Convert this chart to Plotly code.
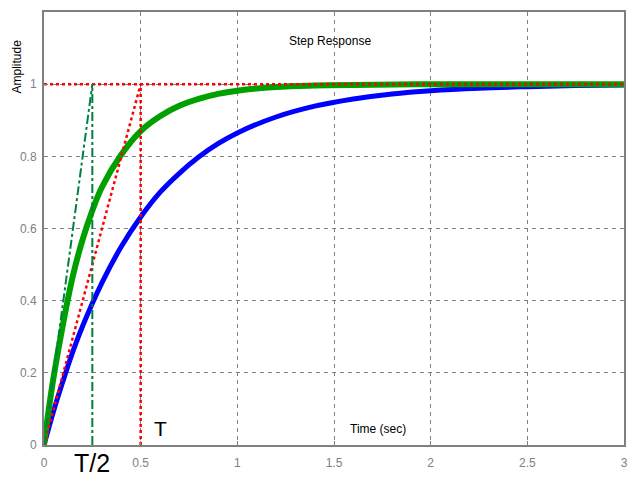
import plotly.graph_objects as go

# Blue response (slow, T = 0.5)
t_blue = [0, 0.05, 0.1, 0.15, 0.2, 0.3, 0.4, 0.5, 0.6, 0.7, 0.8, 0.9, 1.0, 1.2, 1.4, 1.6, 1.8, 2.0, 2.25, 2.5, 2.75, 3.0]
y_blue = [0, 0.095, 0.18, 0.26, 0.33, 0.45, 0.55, 0.632, 0.70, 0.753, 0.798, 0.835, 0.865, 0.909, 0.939, 0.959, 0.973, 0.982, 0.989, 0.993, 0.996, 0.9975]

# Green response (fast, T/2 = 0.25)
t_green = [0, 0.025, 0.05, 0.1, 0.15, 0.2, 0.25, 0.3, 0.4, 0.5, 0.6, 0.7, 0.8, 0.9, 1.0, 1.2, 1.4, 1.6, 2.0, 2.5, 3.0]
y_green = [0, 0.1, 0.19, 0.34, 0.47, 0.57, 0.65, 0.715, 0.805, 0.87, 0.911, 0.94, 0.959, 0.973, 0.982, 0.992, 0.996, 0.998, 1.0, 1.0, 1.0]

# Construction lines
red_h_x = [0, 3]
red_h_y = [1, 1]
red_v_x = [0.5, 0.5]
red_v_y = [0, 1]
red_tan_x = [0, 0.5]
red_tan_y = [0, 1]
grn_v_x = [0.25, 0.25]
grn_v_y = [0, 1]
grn_tan_x = [0, 0.25]
grn_tan_y = [0, 1]

x_ticks = [0, 0.5, 1, 1.5, 2, 2.5, 3]
x_tick_text = ["0", "0.5", "1", "1.5", "2", "2.5", "3"]
y_ticks = [0, 0.2, 0.4, 0.6, 0.8, 1]
y_tick_text = ["0", "0.2", "0.4", "0.6", "0.8", "1"]

fig = go.Figure()
fig.add_trace(go.Scatter(x=t_blue, y=y_blue, mode="lines", line=dict(color="#0000FF", width=5, shape="spline")))
fig.add_trace(go.Scatter(x=t_green, y=y_green, mode="lines", line=dict(color="#00A000", width=6, shape="spline")))
for xs, ys in [(red_h_x, red_h_y), (red_v_x, red_v_y), (red_tan_x, red_tan_y)]:
    fig.add_trace(go.Scatter(x=xs, y=ys, mode="lines", line=dict(color="#FF0000", width=2.5, dash="dot")))
for xs, ys in [(grn_v_x, grn_v_y), (grn_tan_x, grn_tan_y)]:
    fig.add_trace(go.Scatter(x=xs, y=ys, mode="lines", line=dict(color="#008040", width=2, dash="dashdot")))

axis_common = dict(
    showline=True, linecolor="#808080", linewidth=2, mirror=True,
    showgrid=True, gridcolor="#808080", gridwidth=1, griddash="4px,4px",
    zeroline=False, ticks="inside", ticklen=4, tickcolor="#808080",
    tickfont=dict(family="Liberation Sans, Arial", size=12, color="#808080"),
)
fig.update_xaxes(range=[0, 3], tickvals=x_ticks, ticktext=x_tick_text, ticklabelstandoff=6, **axis_common)
fig.update_yaxes(range=[0, 1.2], tickvals=y_ticks, ticktext=y_tick_text, ticklabelstandoff=3, **axis_common)

fig.add_annotation(x=1.48, y=1.12, text="Step Response", showarrow=False,
                   font=dict(family="Liberation Sans, Arial", size=12, color="black"))
fig.add_annotation(x=1.73, y=0.045, text="Time (sec)", showarrow=False,
                   font=dict(family="Liberation Sans, Arial", size=12, color="black"))
fig.add_annotation(x=0.6, y=0.045, text="T", showarrow=False,
                   font=dict(family="Liberation Sans, Arial", size=21, color="black"))
fig.add_annotation(x=0.25, xref="x", yref="paper", y=-0.042, text="T/2", showarrow=False,
                   yanchor="middle", xanchor="center",
                   font=dict(family="Liberation Sans, Arial", size=25, color="black"))
fig.add_annotation(xref="paper", yref="paper", x=-0.0466, y=0.874, text="Amplitude", textangle=-90,
                   showarrow=False, xanchor="center", yanchor="middle",
                   font=dict(family="Liberation Sans, Arial", size=12, color="black"))

# page body has an 8px margin, so the figure is sized to fit the remaining window
fig.update_layout(
    width=633, height=469, showlegend=False,
    plot_bgcolor="white", paper_bgcolor="white",
    margin=dict(l=36, r=17, t=2, b=32),
)
fig.write_html("out.html")
